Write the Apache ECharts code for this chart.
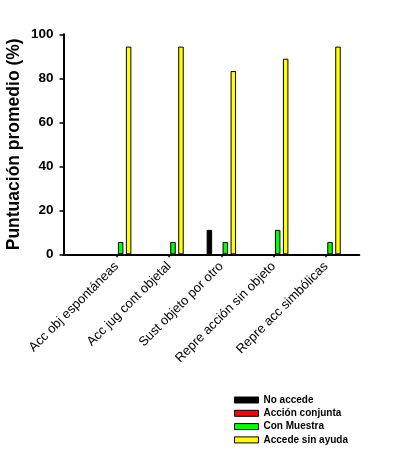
<!DOCTYPE html>
<html><head><meta charset="utf-8">
<script src="https://cdn.jsdelivr.net/npm/echarts@6/dist/echarts.min.js"></script>
<style>html,body{margin:0;padding:0;background:#fff}#c{width:397px;height:455px}</style>
</head><body><div id="c"></div>
<script>
const categories = ['Acc obj espontáneas', 'Acc jug cont objetal', 'Sust objeto por otro', 'Repre acción sin objeto', 'Repre acc simbólicas'];
const noAccede = [0, 0, 11.1, 0, 0];
const accionConjunta = [0, 0, 0, 0, 0];
const conMuestra = [5.6, 5.6, 5.6, 11.1, 5.6];
const accedeSinAyuda = [94.4, 94.4, 83.3, 88.9, 94.4];
const yTicks = [0, 20, 40, 60, 80, 100];
const seriesNames = ['No accede', 'Acción conjunta', 'Con Muestra', 'Accede sin ayuda'];
const seriesColors = ['#000000', '#ff0000', '#00ff00', '#ffff00'];
const seriesData = [noAccede, accionConjunta, conMuestra, accedeSinAyuda];

const chart = echarts.init(document.getElementById('c'), null, {renderer: 'canvas'});
const FONT = 'Liberation Sans, Arial, sans-serif';
chart.setOption({
  animation: false,
  grid: [
    {left: 90.5, right: 44.8, top: 34.3, bottom: 200.7, outerBoundsMode: 'none', containLabel: false},
    {left: 63.5, right: 37.7, top: 34.3, bottom: 200.7, outerBoundsMode: 'none', containLabel: false}
  ],
  legend: {
    orient: 'vertical', left: 229, top: 390,
    itemWidth: 24, itemHeight: 6, itemGap: 3.3,
    icon: 'rect',
    data: seriesNames,
    textStyle: {fontFamily: FONT, fontSize: 10, fontWeight: 'bold', color: '#000', lineHeight: 10},
    itemStyle: {borderColor: '#000', borderWidth: 1}
  },
  xAxis: [
    {type: 'category', data: categories, gridIndex: 0,
     axisLine: {show: false},
     axisTick: {show: true, length: 3, alignWithLabel: true, lineStyle: {color: '#000', width: 1.5}},
     axisLabel: {rotate: 45, margin: 10, interval: 0, fontFamily: FONT, fontSize: 13, color: '#000'}},
    {type: 'value', gridIndex: 1, min: 0, max: 1,
     axisLine: {show: true, onZero: false, lineStyle: {color: '#000', width: 2}},
     axisTick: {show: false}, axisLabel: {show: false}, splitLine: {show: false}}
  ],
  yAxis: [
    {type: 'value', gridIndex: 0, min: yTicks[0], max: yTicks[yTicks.length - 1], interval: 20, offset: 27,
     name: 'Puntuación promedio (%)', nameLocation: 'middle', nameGap: 40, nameMoveOverlap: false,
     nameTextStyle: {fontFamily: FONT, fontSize: 17.5, fontWeight: 'bold', color: '#000'},
     axisLine: {show: true, lineStyle: {color: '#000', width: 2}},
     axisTick: {show: true, length: 4, lineStyle: {color: '#000', width: 1.5}},
     axisLabel: {margin: 10, fontFamily: FONT, fontSize: 13.5, fontWeight: 'bold', color: '#000'},
     splitLine: {show: false}},
    {type: 'value', gridIndex: 1, show: false}
  ],
  series: seriesNames.map((n, i) => ({
    name: n, type: 'bar', xAxisIndex: 0, yAxisIndex: 0,
    data: seriesData[i].map(v => v === 0 ? null : v),
    barWidth: 5.5, barGap: '45%',
    itemStyle: {color: seriesColors[i], borderColor: '#000', borderWidth: 1}
  }))
});
</script></body></html>
